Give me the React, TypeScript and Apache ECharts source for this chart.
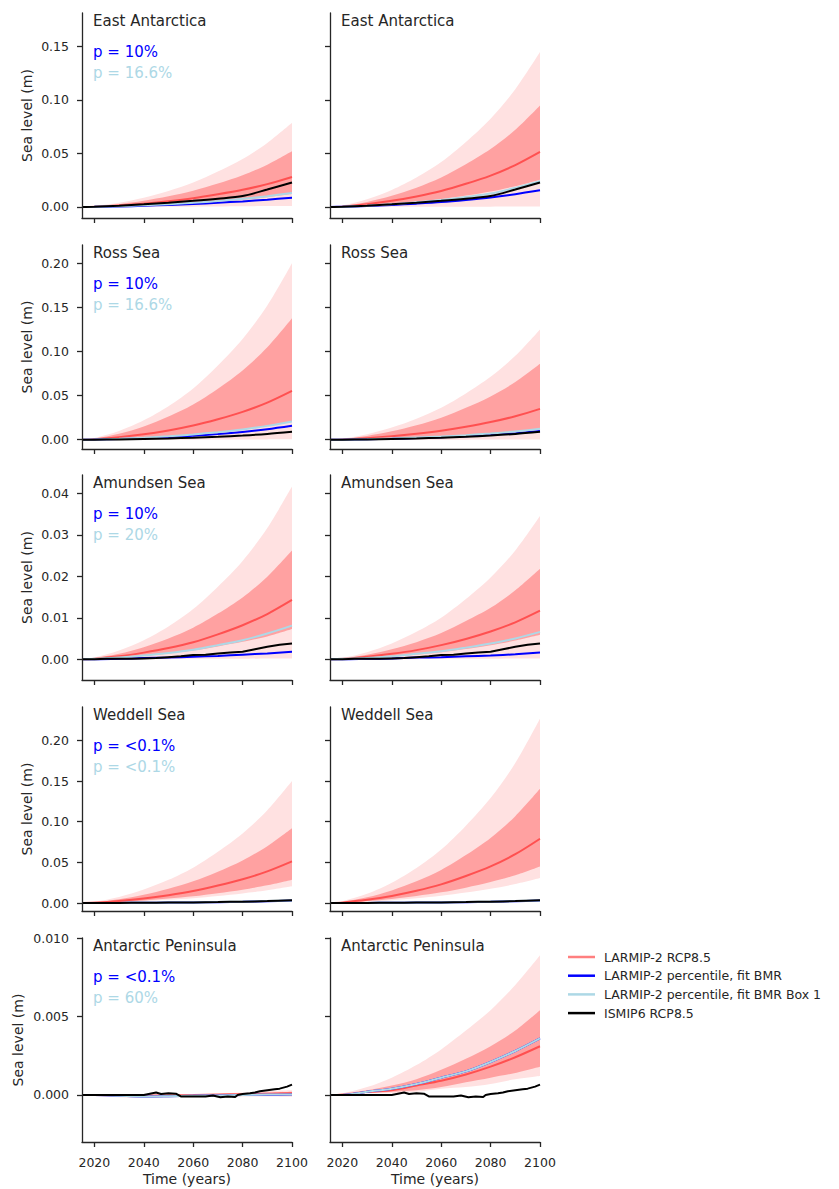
import React, { useEffect, useRef } from "react";
import * as echarts from "echarts";

// ---- Time axes ----
const years = [2015, 2020, 2030, 2040, 2050, 2060, 2070, 2080, 2090, 2100];
const years5 = [2015, 2020, 2025, 2030, 2035, 2040, 2045, 2050, 2055, 2060, 2065, 2070, 2075, 2080, 2085, 2090, 2095, 2100];
const penYears = [2015, 2030, 2040, 2042, 2045, 2047, 2050, 2053, 2055, 2060, 2065, 2068, 2071, 2074, 2077, 2078, 2080, 2083, 2085, 2087, 2090, 2093, 2095, 2098, 2100];
const xTicks = [2020, 2040, 2060, 2080, 2100];

// ---- East Antarctica ----
const eaL_p95 = [0, 0.0008, 0.0039, 0.0086, 0.0149, 0.0228, 0.033, 0.0447, 0.0597, 0.0785];
const eaL_p83 = [0, 0.0005, 0.0026, 0.0057, 0.0099, 0.0151, 0.0218, 0.0296, 0.0395, 0.052];
const eaL_p50 = [0, 0.0003, 0.0014, 0.0031, 0.0053, 0.0081, 0.0118, 0.016, 0.0213, 0.028];
const eaL_p17 = [0, 0.0001, 0.0006, 0.0013, 0.0023, 0.0035, 0.005, 0.0068, 0.0091, 0.012];
const eaL_p5 = [0, 0, 0.0001, 0.0001, 0.0002, 0.0003, 0.0004, 0.0006, 0.0008, 0.001];
const eaL_blue = [0, 0.0001, 0.0005, 0.0011, 0.0019, 0.0028, 0.0039, 0.0052, 0.0068, 0.0087];
const eaL_light = [0, 0.0001, 0.0007, 0.0015, 0.0026, 0.0039, 0.0056, 0.0076, 0.0101, 0.013];
const eaR_p95 = [0, 0.0014, 0.0072, 0.0159, 0.0275, 0.0419, 0.0607, 0.0824, 0.1098, 0.1445];
const eaR_p83 = [0, 0.0009, 0.0047, 0.0104, 0.018, 0.0275, 0.0398, 0.054, 0.072, 0.0947];
const eaR_p50 = [0, 0.0005, 0.0026, 0.0057, 0.0098, 0.0149, 0.0216, 0.0293, 0.0391, 0.0514];
const eaR_p17 = [0, 0.0003, 0.0013, 0.0028, 0.0048, 0.0074, 0.0107, 0.0145, 0.0194, 0.0255];
const eaR_p5 = [0, 0, 0, 0.0001, 0.0001, 0.0001, 0.0002, 0.0003, 0.0004, 0.0005];
const eaR_blue = [0, 0.0002, 0.0008, 0.0018, 0.0031, 0.0046, 0.0066, 0.0089, 0.0119, 0.0155];
const eaR_light = [0, 0.0002, 0.0011, 0.0025, 0.0043, 0.0066, 0.0094, 0.0125, 0.0178, 0.024];
const ea_ismip = [0, 0.0002, 0.0012, 0.0025, 0.004, 0.0057, 0.0077, 0.0102, 0.0163, 0.0228];

// ---- Ross Sea ----
const rsL_p95 = [0, 0.002, 0.01, 0.022, 0.038, 0.058, 0.084, 0.114, 0.152, 0.2];
const rsL_p83 = [0, 0.0014, 0.0069, 0.0151, 0.0262, 0.0399, 0.0578, 0.0785, 0.1047, 0.1377];
const rsL_p50 = [0, 0.0006, 0.0028, 0.0061, 0.0105, 0.0161, 0.0233, 0.0316, 0.0421, 0.0554];
const rsL_p17 = [0, 0.0002, 0.0011, 0.0023, 0.004, 0.0061, 0.0088, 0.012, 0.016, 0.021];
const rsL_p5 = [0, 0, 0, 0.0001, 0.0001, 0.0001, 0.0002, 0.0003, 0.0004, 0.0005];
const rsL_blue = [0, 0.0002, 0.0008, 0.0017, 0.003, 0.0045, 0.0064, 0.0088, 0.0119, 0.0158];
const rsL_light = [0, 0.0002, 0.001, 0.0022, 0.0039, 0.006, 0.0086, 0.0117, 0.0157, 0.0207];
const rsR_p95 = [0, 0.0013, 0.0063, 0.0138, 0.0238, 0.0363, 0.0525, 0.0713, 0.095, 0.125];
const rsR_p83 = [0, 0.0009, 0.0043, 0.0095, 0.0163, 0.0249, 0.0361, 0.049, 0.0654, 0.086];
const rsR_p50 = [0, 0.0004, 0.0018, 0.0039, 0.0067, 0.0102, 0.0147, 0.02, 0.0266, 0.035];
const rsR_p17 = [0, 0.0001, 0.0006, 0.0013, 0.0023, 0.0035, 0.005, 0.0068, 0.0091, 0.012];
const rsR_p5 = [0, 0, 0, 0, 0.0001, 0.0001, 0.0001, 0.0002, 0.0002, 0.0003];
const rsR_blue = [0, 0.0001, 0.0005, 0.0011, 0.0019, 0.0028, 0.004, 0.0055, 0.0074, 0.0098];
const rsR_light = [0, 0.0001, 0.0006, 0.0014, 0.0024, 0.0036, 0.0052, 0.0071, 0.0094, 0.0124];
const rs_ismip = [0, 0.0001, 0.0004, 0.0009, 0.0015, 0.0023, 0.0034, 0.0048, 0.0066, 0.009];

// ---- Amundsen Sea ----
const amL_p95 = [0, 0.0004, 0.0021, 0.0046, 0.0079, 0.0121, 0.0175, 0.0237, 0.0316, 0.0416];
const amL_p83 = [0, 0.0003, 0.0013, 0.0029, 0.005, 0.0076, 0.011, 0.0149, 0.0199, 0.0262];
const amL_p50 = [0, 0.0001, 0.0007, 0.0016, 0.0027, 0.0041, 0.006, 0.0082, 0.0109, 0.0143];
const amL_p17 = [0, 0.0001, 0.0004, 0.0008, 0.0014, 0.0021, 0.0031, 0.0042, 0.0055, 0.0073];
const amL_p5 = [0, 0, 0, 0, 0, 0.0001, 0.0001, 0.0001, 0.0002, 0.0002];
const amL_blue = [0, 0, 0.0001, 0.0003, 0.0004, 0.0006, 0.0008, 0.0011, 0.0014, 0.0018];
const amL_light = [0, 0.0001, 0.0004, 0.0009, 0.0015, 0.0023, 0.0034, 0.0046, 0.0062, 0.0081];
const amR_p95 = [0, 0.0003, 0.0017, 0.0038, 0.0066, 0.01, 0.0145, 0.0197, 0.0262, 0.0345];
const amR_p83 = [0, 0.0002, 0.0011, 0.0024, 0.0041, 0.0063, 0.0092, 0.0124, 0.0166, 0.0218];
const amR_p50 = [0, 0.0001, 0.0006, 0.0013, 0.0022, 0.0034, 0.0049, 0.0067, 0.0089, 0.0117];
const amR_p17 = [0, 0.0001, 0.0003, 0.0006, 0.0011, 0.0017, 0.0025, 0.0034, 0.0045, 0.0059];
const amR_p5 = [0, 0, 0, 0, 0, 0.0001, 0.0001, 0.0001, 0.0002, 0.0002];
const amR_blue = [0, 0, 0.0001, 0.0002, 0.0004, 0.0005, 0.0007, 0.0009, 0.0012, 0.0016];
const amR_light = [0, 0.0001, 0.0003, 0.0007, 0.0013, 0.0019, 0.0028, 0.0038, 0.005, 0.0066];
const am_ismip = [0, 0, 0.0001, 0.0001, 0.0001, 0.0002, 0.0003, 0.0005, 0.0007, 0.001, 0.0011, 0.0014, 0.0016, 0.0018, 0.0024, 0.003, 0.0035, 0.0038];

// ---- Weddell Sea ----
const wdL_p95 = [0, 0.0015, 0.0075, 0.0165, 0.0285, 0.0435, 0.063, 0.0855, 0.114, 0.15];
const wdL_p83 = [0, 0.0009, 0.0046, 0.0101, 0.0175, 0.0267, 0.0386, 0.0524, 0.0699, 0.092];
const wdL_p50 = [0, 0.0005, 0.0026, 0.0056, 0.0097, 0.0148, 0.0215, 0.0292, 0.0389, 0.0512];
const wdL_p17 = [0, 0.0003, 0.0014, 0.0032, 0.0055, 0.0083, 0.0121, 0.0164, 0.0218, 0.0287];
const wdL_p5 = [0, 0.0002, 0.001, 0.0023, 0.0039, 0.0059, 0.0086, 0.0117, 0.0156, 0.0205];
const wdR_p95 = [0, 0.0023, 0.0113, 0.0249, 0.043, 0.0657, 0.0951, 0.1291, 0.1721, 0.2265];
const wdR_p83 = [0, 0.0014, 0.007, 0.0155, 0.0267, 0.0407, 0.059, 0.0801, 0.1068, 0.1405];
const wdR_p50 = [0, 0.0008, 0.004, 0.0087, 0.015, 0.0229, 0.0332, 0.045, 0.06, 0.079];
const wdR_p17 = [0, 0.0005, 0.0023, 0.005, 0.0086, 0.0131, 0.0189, 0.0257, 0.0342, 0.045];
const wdR_p5 = [0, 0.0003, 0.0015, 0.0034, 0.0058, 0.0089, 0.0129, 0.0175, 0.0233, 0.0307];
const wd_blue = [0, 0, 0.0001, 0.0003, 0.0005, 0.0008, 0.0011, 0.0016, 0.0023, 0.0031];
const wd_light = [0, 0, 0.0001, 0.0003, 0.0005, 0.0008, 0.0012, 0.0017, 0.0024, 0.0032];
const wd_ismip = [0, 0, 0.0001, 0.0003, 0.0005, 0.0008, 0.0012, 0.0017, 0.0024, 0.0033];

// ---- Antarctic Peninsula ----
const apL_p95 = [0, 0.00002, 0.00005, 0.00005, 0.00005, 0.00005, 0.0001, 0.00015, 0.00025, 0.0003];
const apL_p83 = [0, 0.00001, 0.00002, 0.00002, 0.00002, 0.00003, 0.00006, 0.0001, 0.00015, 0.0002];
const apL_p50 = [0, 0, -0.00003, -0.00005, -0.00003, -0.00001, 0.00002, 0.00005, 0.00008, 0.0001];
const apL_p17 = [0, -0.00002, -0.0001, -0.00012, -0.0001, -0.00008, -0.00006, -0.00003, -0.00003, -0.00005];
const apL_p5 = [0, -0.00003, -0.00015, -0.0002, -0.00016, -0.00012, -0.0001, -0.0001, -0.0001, -0.00012];
const apL_blue = [0, 0, -0.00005, -0.0001, -0.00008, -0.00005, -0.00003, 0, 0.00001, 0.00002];
const apL_light = [0, 0, -0.00005, -0.0001, -0.00008, -0.00005, -0.00003, 0, 0.00002, 0.00003];
const apR_p95 = [0, 0.0001, 0.0005, 0.0011, 0.0019, 0.0029, 0.0041, 0.0054, 0.007, 0.0089];
const apR_p83 = [0, 0.0001, 0.0003, 0.0006, 0.001, 0.0016, 0.0023, 0.0031, 0.0041, 0.0054];
const apR_p50 = [0, 0, 0.0002, 0.0003, 0.0006, 0.0009, 0.0013, 0.0018, 0.0024, 0.0031];
const apR_p17 = [0, 0, 0.0001, 0.0002, 0.0003, 0.0005, 0.0008, 0.0011, 0.0014, 0.0018];
const apR_p5 = [0, 0, 0.0001, 0.0001, 0.0002, 0.0004, 0.0005, 0.0007, 0.001, 0.0012];
const apR_blue = [0, 0, 0.0002, 0.0004, 0.0007, 0.0011, 0.0015, 0.0021, 0.0028, 0.0036];
const apR_light = [0, 0, 0.0002, 0.0004, 0.0007, 0.0011, 0.0015, 0.0021, 0.0028, 0.0036];
const ap_ismip = [0, 0, 0, 0.00006, 0.00015, 0.00006, 0.0001, 0.00008, -0.0001, -0.0001, -0.0001, -0.00004, -0.00015, -0.0001, -0.00013, 0, 0.00006, 0.0001, 0.00015, 0.00023, 0.0003, 0.00036, 0.0004, 0.00053, 0.00066];

// ---- Row axes ----
const rowMin = [-0.0103, -0.0105, -0.005, -0.0098, -0.003];
const rowMax = [0.181, 0.2206, 0.0444, 0.241, 0.010];
const rowTicks = [
  [0, 0.05, 0.1, 0.15],
  [0, 0.05, 0.1, 0.15, 0.2],
  [0, 0.01, 0.02, 0.03, 0.04],
  [0, 0.05, 0.1, 0.15, 0.2],
  [0, 0.005, 0.01],
];
const rowDecimals = [2, 2, 2, 2, 3];
const titles = ["East Antarctica", "Ross Sea", "Amundsen Sea", "Weddell Sea", "Antarctic Peninsula"];
const pBlue = ["p = 10%", "p = 10%", "p = 10%", "p = <0.1%", "p = <0.1%"];
const pLight = ["p = 16.6%", "p = 16.6%", "p = 20%", "p = <0.1%", "p = 60%"];

const panels = [
  { row: 0, col: 0, p95: eaL_p95, p83: eaL_p83, p50: eaL_p50, p17: eaL_p17, p5: eaL_p5, blue: eaL_blue, light: eaL_light, ismip: ea_ismip, ismipYears: years },
  { row: 0, col: 1, p95: eaR_p95, p83: eaR_p83, p50: eaR_p50, p17: eaR_p17, p5: eaR_p5, blue: eaR_blue, light: eaR_light, ismip: ea_ismip, ismipYears: years },
  { row: 1, col: 0, p95: rsL_p95, p83: rsL_p83, p50: rsL_p50, p17: rsL_p17, p5: rsL_p5, blue: rsL_blue, light: rsL_light, ismip: rs_ismip, ismipYears: years },
  { row: 1, col: 1, p95: rsR_p95, p83: rsR_p83, p50: rsR_p50, p17: rsR_p17, p5: rsR_p5, blue: rsR_blue, light: rsR_light, ismip: rs_ismip, ismipYears: years },
  { row: 2, col: 0, p95: amL_p95, p83: amL_p83, p50: amL_p50, p17: amL_p17, p5: amL_p5, blue: amL_blue, light: amL_light, ismip: am_ismip, ismipYears: years5 },
  { row: 2, col: 1, p95: amR_p95, p83: amR_p83, p50: amR_p50, p17: amR_p17, p5: amR_p5, blue: amR_blue, light: amR_light, ismip: am_ismip, ismipYears: years5 },
  { row: 3, col: 0, p95: wdL_p95, p83: wdL_p83, p50: wdL_p50, p17: wdL_p17, p5: wdL_p5, blue: wd_blue, light: wd_light, ismip: wd_ismip, ismipYears: years },
  { row: 3, col: 1, p95: wdR_p95, p83: wdR_p83, p50: wdR_p50, p17: wdR_p17, p5: wdR_p5, blue: wd_blue, light: wd_light, ismip: wd_ismip, ismipYears: years },
  { row: 4, col: 0, p95: apL_p95, p83: apL_p83, p50: apL_p50, p17: apL_p17, p5: apL_p5, blue: apL_blue, light: apL_light, ismip: ap_ismip, ismipYears: penYears },
  { row: 4, col: 1, p95: apR_p95, p83: apR_p83, p50: apR_p50, p17: apR_p17, p5: apR_p5, blue: apR_blue, light: apR_light, ismip: ap_ismip, ismipYears: penYears },
];

// ---- Layout / style ----
const colLeft = [82, 330];
const colWidth = 210;
const rowTop = [13, 245, 475, 707, 938];
const rowBottom = [218, 449, 680, 911, 1142];
const FONT = "DejaVu Sans";
const INK = "#262626";
const LIGHT_BAND = "#ffe1e1";
const DARK_BAND = "#ffa1a1";
const RED = "rgba(255,0,0,0.5)";
const BLUE = "#0000ff";
const LBLUE = "#add8e6";
const BLACK = "#000000";
const NAMES = ["LARMIP-2 RCP8.5", "LARMIP-2 percentile, fit BMR", "LARMIP-2 percentile, fit BMR Box 1", "ISMIP6 RCP8.5"];

function pairs(xs: number[], ys: number[]) {
  return ys.map((y, i) => [xs[i], y]);
}

function buildOption() {
  const grid: any[] = [];
  const xAxis: any[] = [];
  const yAxis: any[] = [];
  const series: any[] = [];
  const graphic: any[] = [];
  const axisLineStyle = { color: INK, width: 1.3 };

  panels.forEach((p, i) => {
    const left = colLeft[p.col];
    const top = rowTop[p.row];
    grid.push({ left, top, width: colWidth, height: rowBottom[p.row] - top });
    const last = p.row === 4;
    xAxis.push({
      gridIndex: i, type: "value", min: 2015, max: 2100, z: 10,
      axisLine: { show: true, onZero: false, lineStyle: axisLineStyle },
      axisTick: { show: true, length: 5, customValues: xTicks, lineStyle: axisLineStyle },
      axisLabel: { show: last, customValues: xTicks, margin: 14, color: INK, fontSize: 12.5, fontFamily: FONT, formatter: (v: number) => String(v) },
      splitLine: { show: false },
      name: last ? "Time (years)" : "",
      nameLocation: "middle", nameGap: 30,
      nameTextStyle: { color: INK, fontSize: 14, fontFamily: FONT },
    });
    const d = rowDecimals[p.row];
    yAxis.push({
      gridIndex: i, type: "value", min: rowMin[p.row], max: rowMax[p.row], z: 10,
      axisLine: { show: true, onZero: false, lineStyle: axisLineStyle },
      axisTick: { show: true, length: 5, customValues: rowTicks[p.row], lineStyle: axisLineStyle },
      axisLabel: { show: p.col === 0, customValues: rowTicks[p.row], margin: 13, color: INK, fontSize: 12.5, fontFamily: FONT, formatter: (v: number) => v.toFixed(d) },
      splitLine: { show: false },
      name: p.col === 0 ? "Sea level (m)" : "",
      nameLocation: "middle", nameGap: p.row === 4 ? 57 : 48,
      nameTextStyle: { color: INK, fontSize: 14, fontFamily: FONT },
    });

    const common = { xAxisIndex: i, yAxisIndex: i, type: "line", symbol: "none", showSymbol: false, smooth: 0.3, silent: true };
    // Bands drawn as layered areas filled down to the axis start:
    // 95th (light) -> 83rd (dark) -> 17th (light) -> 5th (white)
    const band = (vals: number[], color: string) => ({
      ...common,
      lineStyle: { width: 0, opacity: 0 },
      areaStyle: { color, opacity: 1, origin: "start" },
      data: pairs(years, vals),
    });
    series.push(band(p.p95, LIGHT_BAND));
    series.push(band(p.p83, DARK_BAND));
    series.push(band(p.p17, LIGHT_BAND));
    series.push(band(p.p5, "#ffffff"));
    series.push({ ...common, name: NAMES[0], itemStyle: { color: RED }, lineStyle: { color: RED, width: 2 }, data: pairs(years, p.p50) });
    series.push({ ...common, name: NAMES[1], itemStyle: { color: BLUE }, lineStyle: { color: BLUE, width: 2 }, data: pairs(years, p.blue) });
    series.push({ ...common, name: NAMES[2], itemStyle: { color: LBLUE }, lineStyle: { color: LBLUE, width: 2 }, data: pairs(years, p.light) });
    series.push({ ...common, smooth: p.ismipYears === years ? 0.3 : false, name: NAMES[3], itemStyle: { color: BLACK }, lineStyle: { color: BLACK, width: 2 }, data: pairs(p.ismipYears, p.ismip) });

    graphic.push({ type: "text", x: left + 11, y: top + 8, style: { text: titles[p.row], fill: INK, fontSize: 15, fontFamily: FONT, verticalAlign: "middle" } });
    if (p.col === 0) {
      graphic.push({ type: "text", x: left + 11, y: top + 39, style: { text: pBlue[p.row], fill: BLUE, fontSize: 15, fontFamily: FONT, verticalAlign: "middle" } });
      graphic.push({ type: "text", x: left + 11, y: top + 59.5, style: { text: pLight[p.row], fill: LBLUE, fontSize: 15, fontFamily: FONT, verticalAlign: "middle" } });
    }
  });

  return {
    animation: false,
    backgroundColor: "#ffffff",
    textStyle: { fontFamily: FONT },
    grid, xAxis, yAxis, series, graphic,
    legend: {
      data: NAMES.map((n) => ({ name: n, icon: "rect" })),
      orient: "vertical",
      left: 563, top: 945,
      itemWidth: 27, itemHeight: 2.5, itemGap: 4.7,
      selectedMode: false,
      textStyle: { color: INK, fontSize: 12.5, fontFamily: FONT, lineHeight: 14, padding: [0, 0, 0, 4] },
    },
  };
}

export default function App() {
  const ref = useRef<HTMLDivElement>(null);
  useEffect(() => {
    if (!ref.current) return;
    const chart = echarts.init(ref.current, undefined, { renderer: "svg" });
    chart.setOption(buildOption() as any);
    return () => chart.dispose();
  }, []);
  return <div ref={ref} style={{ position: "absolute", left: 0, top: 0, width: 839, height: 1189 }} />;
}
